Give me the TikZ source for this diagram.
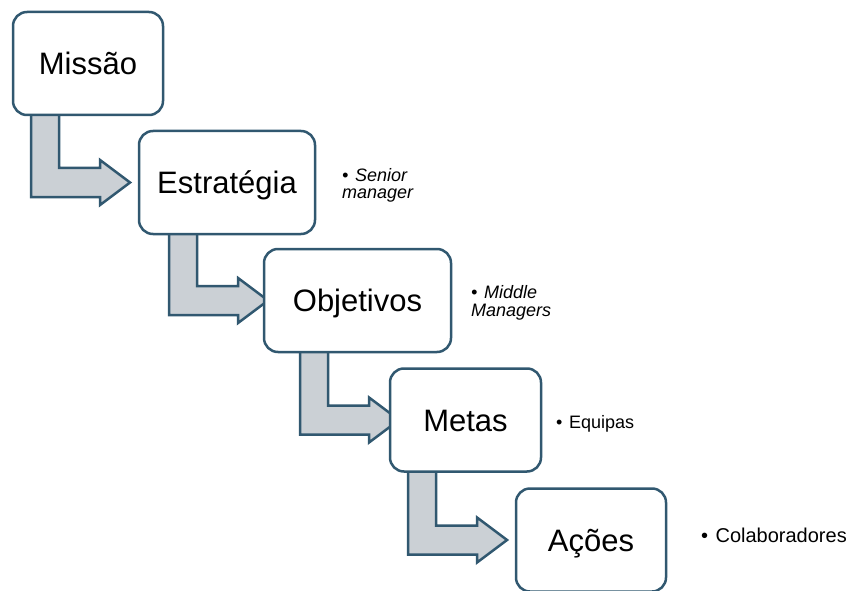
\documentclass[tikz,border=0pt]{standalone}
\usepackage{fontspec}
\setmainfont{Liberation Sans}
\usetikzlibrary{calc,backgrounds}

\definecolor{edge}{RGB}{49,88,112}
\definecolor{flowfill}{RGB}{203,208,213}

\tikzset{
  stage/.style={draw=edge, line width=2.5pt, fill=white, rounded corners=14pt,
    minimum height=103pt, inner sep=0pt,
    font=\fontsize{31}{31}\selectfont, text height=22.2pt, text depth=0pt},
  flow/.style={draw=edge, line width=2.5pt, fill=flowfill, line join=miter},
  role/.style={inner sep=0pt, align=left, font=\fontsize{18}{17.5}\selectfont\itshape},
  team/.style={inner sep=0pt, font=\fontsize{18}{18}\selectfont},
}

% bent block arrow: #1 source box, #2 target box, #3 stem left x, #4 head base x
\newcommand\flowarrow[4]{%
  \draw[flow] let \p1=(#1.south), \p2=(#2.center) in
    (#3,\y1+8) -- (#3+28,\y1+8) -- (#3+28,\y2+14.5) -- (#4,\y2+14.5)
    -- (#4,\y2+22.5) -- (#4+30,\y2) -- (#4,\y2-22.5) -- (#4,\y2-14.5)
    -- (#3,\y2-14.5) -- cycle;}

\begin{document}
\begin{tikzpicture}[x=1pt,y=1pt]
  \useasboundingbox (0,0) rectangle (850,590);
  \clip (0,0) rectangle (850,590);

  % stages
  \node[stage, minimum width=150pt] (missao)   at (88,526.5)  {Missão};
  \node[stage, minimum width=176pt] (estrat)   at (227,407.5) {Estratégia};
  \node[stage, minimum width=187pt] (objet)    at (357.5,289.5) {Objetivos};
  \node[stage, minimum width=151pt] (metas)    at (465.5,170) {Metas};
  \node[stage, minimum width=150pt] (acoes)    at (591,50)    {Ações};

  % arrows behind the stages
  \begin{pgfonlayer}{background}
    \flowarrow{missao}{estrat}{31}{100}
    \flowarrow{estrat}{objet}{169}{238}
    \flowarrow{objet}{metas}{300}{369}
    \flowarrow{metas}{acoes}{408}{477}
  \end{pgfonlayer}

  % who is responsible at each level
  \node[role, anchor=west] (senior) at (342,404.6)
    {\textbullet\hspace{0.37em}Senior\\manager};
  \node[role, anchor=west] (middle) at (471,287)
    {\textbullet\hspace{0.37em}Middle\\Managers};
  \node[team, anchor=base west] (equipas) at (556,162)
    {\textbullet\hspace{0.37em}Equipas};
  \node[team, font=\fontsize{20}{20}\selectfont, anchor=base west] (colab) at (701,48)
    {\textbullet\hspace{0.37em}Colaboradores};
\end{tikzpicture}
\end{document}
